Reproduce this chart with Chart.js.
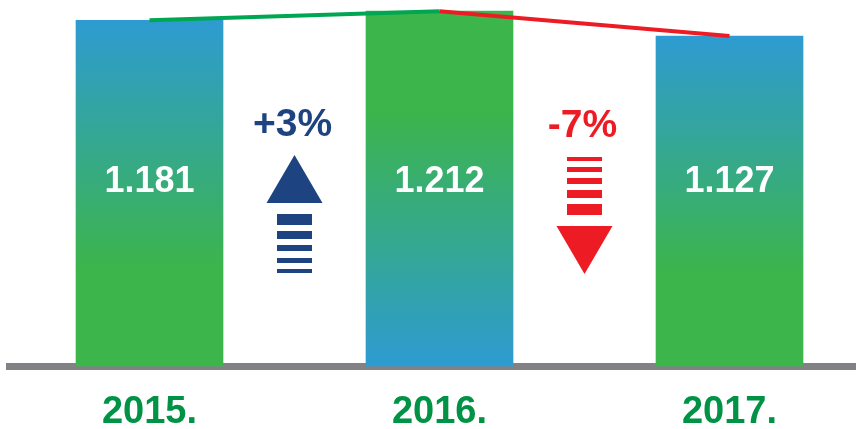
<!DOCTYPE html>
<html>
<head>
<meta charset="utf-8">
<script src="https://cdn.jsdelivr.net/npm/chart.js@4.4.0/dist/chart.umd.min.js"></script>
<style>
  html, body { margin: 0; padding: 0; background: #fff; }
</style>
</head>
<body>
<canvas id="chart" width="856" height="429"></canvas>
<script>
// --- Data ---
const years = ['2015.', '2016.', '2017.'];
const values = [1181, 1212, 1127];
const valueLabels = ['1.181', '1.212', '1.127'];
const changes = ['+3%', '-7%'];
const changeDirs = ['up', 'down'];

// --- Colours ---
const BLUE = '#2e9bd2';
const GREEN = '#3cb54b';
const LINE_GREEN = '#00a651';
const RED = '#ed1c24';
const NAVY = '#1e4381';
const GRAY = '#808285';
const YEAR_GREEN = '#009245';
// gradient stops per bar: [offset, colour]
const barStops = [
    [[0, BLUE], [0.72, GREEN], [1, GREEN]],
    [[0, GREEN], [0.28, GREEN], [1, BLUE]],
    [[0, BLUE], [0.72, GREEN], [1, GREEN]]
];
const FONT = '"Liberation Sans", Arial, Helvetica, sans-serif';

function barGradient(ctx) {
    const chart = ctx.chart;
    const area = chart.chartArea;
    if (!area || ctx.type !== 'data') return BLUE;
    const top = chart.scales.y.getPixelForValue(values[ctx.dataIndex]);
    const g = chart.ctx.createLinearGradient(0, top, 0, area.bottom);
    barStops[ctx.dataIndex].forEach(([o, c]) => g.addColorStop(o, c));
    return g;
}

// arrows + texts drawn between the bars
const annotations = {
    id: 'annotations',
    afterDatasetsDraw(chart) {
        const { ctx, scales: { x } } = chart;
        ctx.save();
        ctx.textAlign = 'center';
        ctx.textBaseline = 'alphabetic';

        // values inside the bars
        ctx.font = 'bold 36px ' + FONT;
        ctx.fillStyle = '#fff';
        valueLabels.forEach((t, i) => ctx.fillText(t, x.getPixelForValue(i), 192));

        changes.forEach((t, i) => {
            const cx = x.getPixelForValue(i + 0.5);
            const up = changeDirs[i] === 'up';
            ctx.fillStyle = up ? NAVY : RED;
            ctx.font = 'bold 39px ' + FONT;
            ctx.fillText(t, cx - 2, up ? 136 : 137);

            ctx.beginPath();
            if (up) {
                ctx.moveTo(cx, 155);
                ctx.lineTo(cx + 28, 203);
                ctx.lineTo(cx - 28, 203);
            } else {
                ctx.moveTo(cx - 28, 226);
                ctx.lineTo(cx + 28, 226);
                ctx.lineTo(cx, 274);
            }
            ctx.closePath();
            ctx.fill();

            const stripes = up
                ? [[214, 11], [231, 8], [245, 6], [258, 5], [269, 4]]
                : [[157, 4], [167, 5], [178, 6], [190, 8], [204, 11]];
            stripes.forEach(([y, h]) => ctx.fillRect(cx - 17.5, y, 35, h));
        });
        ctx.restore();
    }
};

new Chart(document.getElementById('chart'), {
    type: 'bar',
    data: {
        datasets: [
            {
                type: 'line',
                data: values.map((v, i) => ({ x: i, y: v })),
                borderWidth: 4,
                pointRadius: 0,
                fill: false,
                order: 0,
                segment: {
                    borderColor: c => c.p0DataIndex === 0 ? LINE_GREEN : RED
                }
            },
            {
                type: 'bar',
                data: values.map((v, i) => ({ x: i, y: v })),
                backgroundColor: barGradient,
                barThickness: 147,
                order: 1
            }
        ]
    },
    options: {
        responsive: false,
        animation: false,
        events: [],
        layout: { padding: { left: 9, right: 0, top: 0, bottom: 0 } },
        plugins: { legend: { display: false }, tooltip: { enabled: false } },
        scales: {
            x: {
                type: 'linear',
                offset: false,
                min: -0.4845,
                max: 2.4362,
                z: 1,
                grid: { display: false, drawTicks: false, offset: false },
                border: { display: true, color: GRAY, width: 7 },
                afterBuildTicks: s => { s.ticks = years.map((_, i) => ({ value: i })); },
                afterFit: s => { s.height = 62.5; },
                ticks: {
                    autoSkip: false,
                    maxRotation: 0,
                    padding: 23,
                    color: YEAR_GREEN,
                    font: { family: FONT, size: 38, weight: 'bold' },
                    callback: v => years[v]
                }
            },
            y: {
                display: false,
                min: 0,
                max: 1250
            }
        }
    },
    plugins: [annotations]
});
</script>
</body>
</html>
